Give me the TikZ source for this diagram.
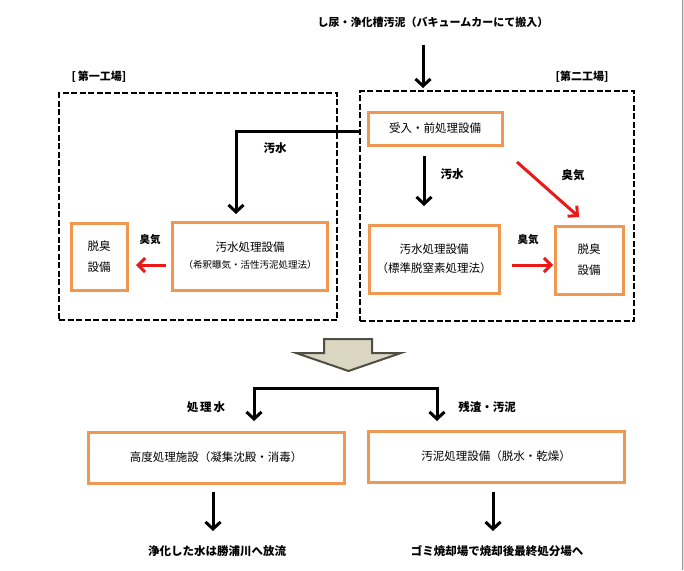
\documentclass[tikz,border=0pt]{standalone}
\usepackage{fontspec}
\newfontfamily\jp{Noto Sans CJK JP}
\usetikzlibrary{arrows.meta}
\definecolor{boxorange}{RGB}{240,152,82}
\definecolor{hollowfill}{RGB}{218,214,194}
\definecolor{hollowline}{RGB}{78,78,68}
\definecolor{arrred}{RGB}{236,24,24}
\newcommand\smalltxt{\fontsize{9.5}{11}\selectfont}
\begin{document}
\begin{tikzpicture}[x=1pt,y=-1pt,
  obox/.style={draw=boxorange, line width=3pt, inner sep=0pt, align=center,
    font=\jp\fontsize{11.5}{21}\selectfont},
  plant/.style={draw=black, line width=2.6pt, dash pattern=on 6pt off 2.5pt, inner sep=0pt},
  flow/.style={draw=black, line width=3pt, -{Straight Barb[length=7pt,width=15pt]}},
  smell/.style={draw=arrred, line width=3pt, -{Straight Barb[length=7pt,width=14pt]}},
  lbl/.style={inner sep=0pt, font=\jp\bfseries\fontsize{11.5}{13}\selectfont},
  slbl/.style={inner sep=0pt, font=\jp\bfseries\fontsize{10.5}{12}\selectfont},
  big/.style={inner sep=0pt, font=\jp\bfseries\fontsize{11}{13}\selectfont}]
\useasboundingbox (0,0) rectangle (684,570);
\fill[white] (0,0) rectangle (684,570);
\fill[black!12] (682,0) rectangle (684,570);
\draw[black!40, line width=0.6pt] (682,0) -- (682,570);

% title
\node[big] (src) at (433,22) {し尿・浄化槽汚泥（バキュームカーにて搬入）};

% plants
\node[plant, minimum width=278, minimum height=227] (p1) at (198,206.5) {};
\node[plant, minimum width=274, minimum height=230] (p2) at (497,206) {};
\node[big] (p1t) at (99,77) {[\,第一工場]};
\node[big] (p2t) at (582,77) {[第二工場]};

% boxes
\node[obox, minimum width=134, minimum height=33] (uke) at (435,128.5) {受入・前処理設備};
\node[obox, minimum width=56, minimum height=67] (ldo) at (99,256.5) {脱臭\\設備};
\node[obox, minimum width=155, minimum height=68] (lws) at (250,256)
  {汚水処理設備\\[-4pt]{\smalltxt （希釈曝気・活性汚泥処理法）}};
\node[obox, minimum width=130, minimum height=68] (rws) at (434,259)
  {汚水処理設備\\[-2pt]（標準脱窒素処理法）};
\node[obox, minimum width=68, minimum height=68] (rdo) at (589,260) {脱臭\\設備};
\node[obox, minimum width=256, minimum height=51] (kodo) at (216,457.5) {高度処理施設（凝集沈殿・消毒）};
\node[obox, minimum width=256, minimum height=51] (odei) at (496,456.5) {汚泥処理設備（脱水・乾燥）};

% bottom texts
\node[lbl] (out1) at (217,551) {浄化した水は勝浦川へ放流};
\node[lbl] (out2) at (497,551) {ゴミ焼却場で焼却後最終処分場へ};

% labels
\node[lbl] (l1) at (275,148) {汚水};
\node[slbl] (l2) at (150,240) {臭気};
\node[lbl] (l3) at (452,174) {汚水};
\node[slbl] (l4) at (528,240) {臭気};
\node[lbl] (l5) at (573,175) {臭気};
\node[lbl] (l6) at (206,407) {処\,理\,水};
\node[lbl] (l7) at (487,407) {残渣・汚泥};

% coordinates
\coordinate (topS) at (423,45);
\coordinate (topE) at (423,88);
\coordinate (wS) at (360,131);
\coordinate (wE) at (236,214);
\coordinate (dS) at (424,156);
\coordinate (dE) at (424,206);
\coordinate (r1S) at (166,265);
\coordinate (r1E) at (136,265);
\coordinate (r2S) at (512,265);
\coordinate (r2E) at (553,265);
\coordinate (r3S) at (517,162);
\coordinate (r3E) at (579,217);
\coordinate (bL) at (254,421);
\coordinate (bR) at (437,421);
\coordinate (bM) at (345,388);
\coordinate (o1S) at (213,492);
\coordinate (o1E) at (213,531);
\coordinate (o2S) at (493,492);
\coordinate (o2E) at (493,531);

% connectors
\draw[flow] (topS) -- (topE);
\draw[flow] (wS) -| (wE);
\draw[flow] (dS) -- (dE);
\draw[smell] (r1S) -- (r1E);
\draw[smell] (r2S) -- (r2E);
\draw[smell] (r3S) -- (r3E);
\draw[flow] (bM) -| (bL);
\draw[flow] (bM) -| (bR);
\draw[flow] (o1S) -- (o1E);
\draw[flow] (o2S) -- (o2E);

% big hollow arrow
\draw[fill=hollowfill, draw=hollowline, line width=2pt, line join=miter]
  (324,339) -- (372,339) -- (372,353) -- (401,353) -- (348.5,371)
  -- (296,353) -- (324,353) -- cycle;
\end{tikzpicture}
\end{document}
